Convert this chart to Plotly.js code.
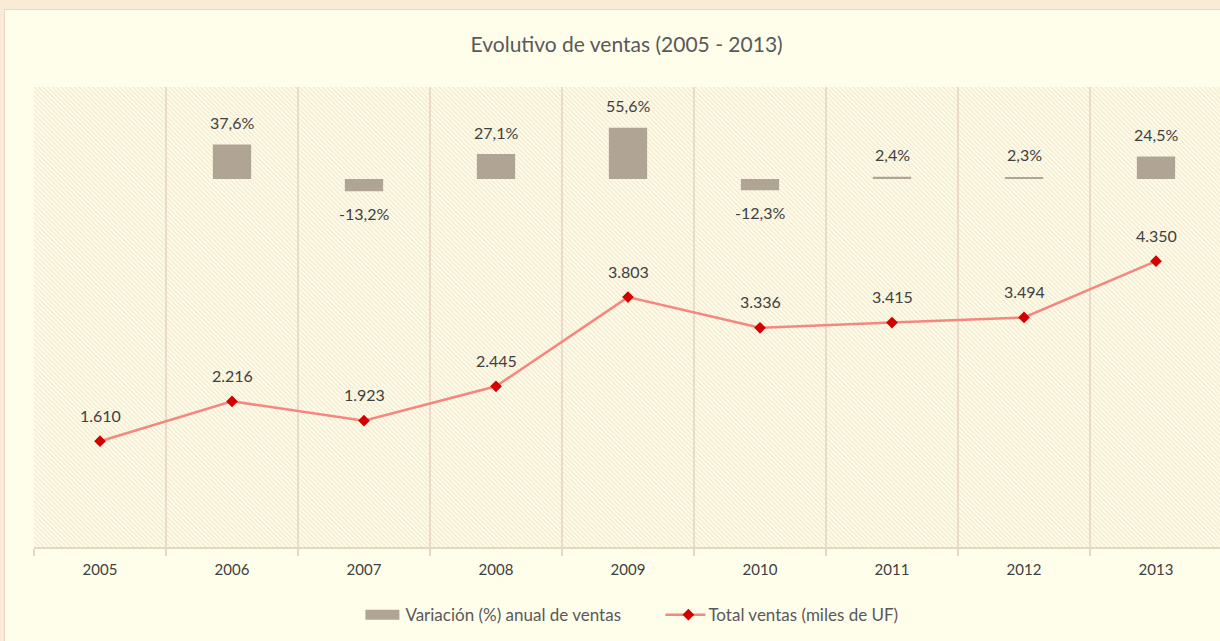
<!DOCTYPE html>
<html>
<head>
<meta charset="utf-8">
<script src="https://cdn.plot.ly/plotly-3.0.1.min.js"></script>
<style>
html, body { margin:0; padding:0; background:#FAEBD7; overflow:hidden; width:1220px; height:641px; }
#frame { position:absolute; left:4px; top:9px; width:1232px; height:640px; background:#FFFEEB; border-left:1px solid #EAD8C4; border-top:1px solid #EAD8C4; box-sizing:border-box; }
#chart { position:absolute; left:0; top:0; width:1231px; height:639px; }
</style>
</head>
<body>
<div id="frame"><div id="chart"></div></div>
<script>
// ---- data ----
const years = ['2005','2006','2007','2008','2009','2010','2011','2012','2013'];
const totalVentas = [1610, 2216, 1923, 2445, 3803, 3336, 3415, 3494, 4350];      // miles de UF
const variacion   = [null, 37.6, -13.2, 27.1, 55.6, -12.3, 2.4, 2.3, 24.5];      // %
const chartTitle = 'Evolutivo de ventas (2005 - 2013)';
const barName = 'Variación (%) anual de ventas';
const lineName = 'Total ventas (miles de UF)';

function fmtMiles(v){ return String(v).replace(/\B(?=(\d{3})+(?!\d))/g,'.'); }
function fmtPct(v){ return v.toFixed(1).replace('.',',') + '%'; }

const FONT = 'Lato, "Open Sans", sans-serif';
const TXT = '#404040';

// hatch pattern for plot background
const pw = 1188, ph = 460;
const svg = "<svg xmlns='http://www.w3.org/2000/svg' width='"+pw+"' height='"+ph+"'>" +
  "<defs><pattern id='p' width='4.5' height='4.5' patternUnits='userSpaceOnUse'>" +
  "<rect width='4.5' height='4.5' fill='#FFFDE8'/>" +
  "<path d='M-1,-1 L5.5,5.5 M3.5,-1 L5.5,1 M-1,3.5 L1,5.5' stroke='#F0E4CD' stroke-width='1.1'/>" +
  "</pattern></defs><rect width='100%' height='100%' fill='url(#p)'/></svg>";
const svgUrl = 'data:image/svg+xml;charset=utf-8,' + encodeURIComponent(svg);

const barTrace = {
  type:'bar', name:barName, x:years, y:variacion, yaxis:'y2',
  width:0.29, marker:{color:'#B0A595', line:{width:0}},
  hoverinfo:'skip'
};
const lineTrace = {
  type:'scatter', mode:'lines+markers', name:lineName, x:years, y:totalVentas,
  line:{color:'#F4877F', width:2.5},
  marker:{symbol:'diamond', size:9, color:'#D40000', line:{width:0}},
  hoverinfo:'skip'
};

const annotations = [];
years.forEach((yr,i)=>{
  annotations.push({x:i, y:totalVentas[i], xref:'x', yref:'y', text:fmtMiles(totalVentas[i]),
    showarrow:false, yshift:26, yanchor:'middle', font:{family:FONT, size:16, color:TXT}});
  if (variacion[i] !== null) {
    const v = variacion[i];
    annotations.push({x:i, y:v, xref:'x', yref:'y2', text:fmtPct(v),
      showarrow:false, yshift: v>=0 ? 22 : -22, yanchor:'middle', font:{family:FONT, size:16, color:TXT}});
  }
});

const layout = {
  width:1231, height:639,
  margin:{l:29, r:14, t:77, b:102, pad:0},
  paper_bgcolor:'rgba(0,0,0,0)', plot_bgcolor:'#FFFDE8',
  font:{family:FONT, color:'#595959'},
  title:{text:chartTitle, font:{family:FONT, size:21, color:'#595959'},
    x:0.505, xref:'container', y:0.945, yref:'container', yanchor:'middle'},
  showlegend:true,
  legend:{orientation:'h', x:0.534, xanchor:'center', y:-0.148, yanchor:'middle', entrywidth:258,
    font:{family:FONT, size:17, color:'#595959'}, bgcolor:'rgba(0,0,0,0)', traceorder:'normal'},
  xaxis:{type:'category', categoryorder:'array', categoryarray:years, range:[-0.5, years.length-0.5],
    tickson:'boundaries', showgrid:true, gridcolor:'#EADBCB', gridwidth:1.5,
    ticks:'outside', ticklen:7, tickcolor:'#E6D6C6', tickwidth:1.5, tickangle:0, ticklabelstandoff:8,
    showline:true, linecolor:'#E6D6C6', linewidth:2,
    tickfont:{family:FONT, size:15, color:'#404040'}, fixedrange:true, zeroline:false},
  yaxis:{range:[0,7000], showgrid:false, showticklabels:false, zeroline:false, showline:false, ticks:'', fixedrange:true},
  yaxis2:{range:[-400,100], overlaying:'y', side:'right', showgrid:false, showticklabels:false,
    zeroline:false, showline:false, ticks:'', fixedrange:true},
  barmode:'overlay',
  annotations:annotations,
  images:[{source:svgUrl, xref:'paper', yref:'paper', x:0, y:1, sizex:1, sizey:1,
    sizing:'stretch', xanchor:'left', yanchor:'top', layer:'below'}]
};

Plotly.newPlot('chart', [barTrace, lineTrace], layout, {displayModeBar:false, staticPlot:true}).then(gd=>{
  // legend swatches styled like the original (wide bar rectangle, longer line)
  const items = gd.querySelectorAll('.legend .traces');
  if (items.length > 0) {
    const p = items[0].querySelector('.legendpoints path');
    if (p) p.setAttribute('d','M-24,-5h38v10h-38Z');
  }
  if (items.length > 1) {
    const l = items[1].querySelector('.legendlines path');
    if (l) l.setAttribute('d','M-3,0h40');
  }
});
</script>
</body>
</html>
